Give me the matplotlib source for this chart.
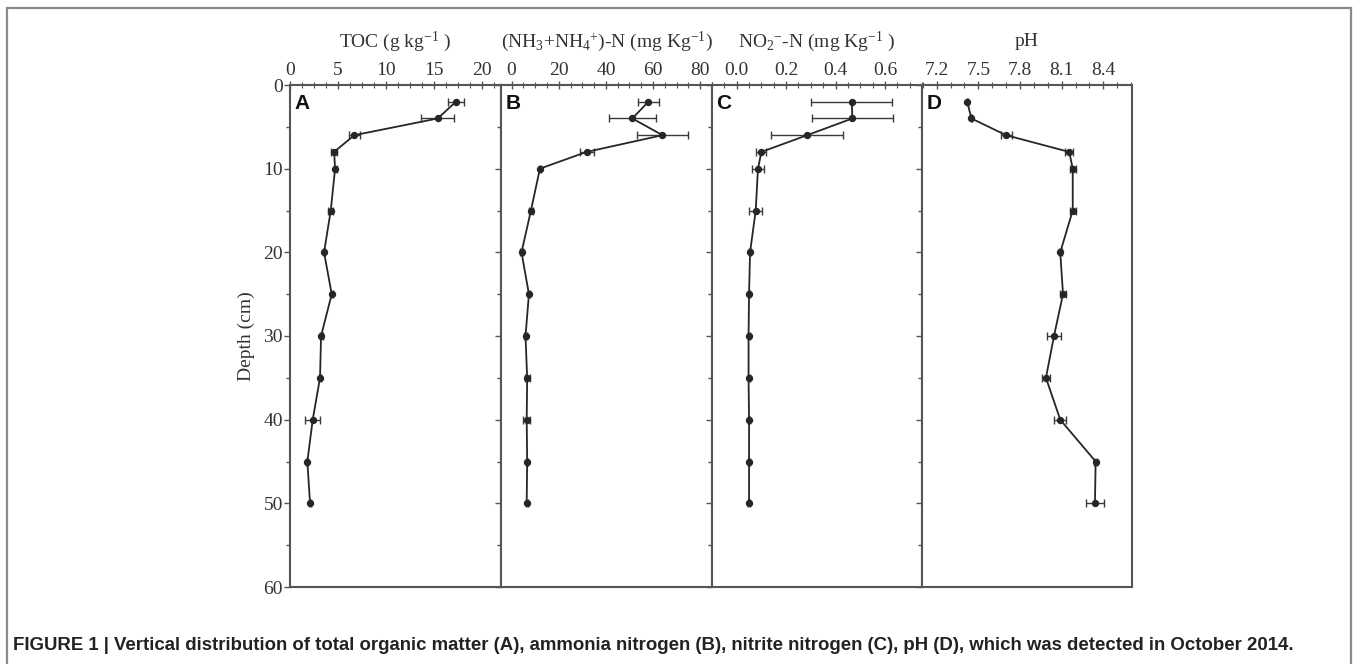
import matplotlib
matplotlib.use("Agg")
import matplotlib.pyplot as plt
from matplotlib.lines import Line2D
from matplotlib.ticker import MultipleLocator

plt.rcParams['font.family'] = ['Liberation Serif', 'DejaVu Serif']
plt.rcParams['mathtext.fontset'] = 'custom'
plt.rcParams['mathtext.rm'] = 'Liberation Serif'
plt.rcParams['mathtext.it'] = 'Liberation Serif:italic'
plt.rcParams['mathtext.bf'] = 'Liberation Serif:bold'

# ---------------- data ----------------
depth = [2, 4, 6, 8, 10, 15, 20, 25, 30, 35, 40, 45, 50]

toc = [17.3, 15.4, 6.7, 4.6, 4.7, 4.25, 3.55, 4.35, 3.24, 3.13, 2.37, 1.81, 2.09]
toc_err = [0.87, 1.7, 0.6, 0.3, 0.15, 0.25, 0.1, 0.1, 0.15, 0.15, 0.78, 0.1, 0.1]

nh = [58.0, 51.2, 64.0, 31.8, 12.0, 8.2, 4.2, 7.35, 5.9, 6.6, 6.4, 6.6, 6.4]
nh_err = [4.4, 9.9, 10.9, 3.0, 0.5, 1.0, 0.5, 0.5, 0.8, 1.0, 1.5, 0.5, 0.5]

no2 = [0.466, 0.468, 0.285, 0.10, 0.086, 0.077, 0.054, 0.05, 0.048, 0.048, 0.05, 0.05, 0.05]
no2_err = [0.164, 0.164, 0.146, 0.02, 0.023, 0.027, 0.005, 0.004, 0.004, 0.004, 0.004, 0.004, 0.004]

ph = [7.42, 7.45, 7.70, 8.155, 8.18, 8.18, 8.09, 8.11, 8.045, 7.987, 8.09, 8.345, 8.34]
ph_err = [0.005, 0.005, 0.04, 0.03, 0.02, 0.02, 0.01, 0.02, 0.054, 0.03, 0.045, 0.01, 0.062]

panel_letters = ['A', 'B', 'C', 'D']
titles = ['TOC (g kg$^{-1}$ )',
          '(NH$_3$+NH$_4$$^{+}$)-N (mg Kg$^{-1}$)',
          'NO$_2$$^{-}$-N (mg Kg$^{-1}$ )',
          'pH']
xlims = [(0, 22), (-4.5, 85), (-0.1, 0.75), (7.094, 8.607)]
major_steps = [5, 20, 0.2, 0.3]
minor_steps = [1.25, 5, 0.05, 0.1]
tick_fmts = ['{:.0f}', '{:.0f}', '{:.1f}', '{:.1f}']
values = [toc, nh, no2, ph]
errors = [toc_err, nh_err, no2_err, ph_err]

caption = ("FIGURE 1 | Vertical distribution of total organic matter (A), ammonia nitrogen (B), "
           "nitrite nitrogen (C), pH (D), which was detected in October 2014.")

# ---------------- figure ----------------
W, H = 1358, 664
fig = plt.figure(figsize=(W / 100, H / 100), dpi=100)
fig.patch.set_facecolor('white')

# outer frame (left, top, right)
fc = '#8a8a8a'
x0, x1, yt = 7 / W, 1351 / W, 1 - 8 / H
fig.add_artist(Line2D([x0, x1], [yt, yt], transform=fig.transFigure, color=fc, lw=1.6))
fig.add_artist(Line2D([x0, x0], [0, yt], transform=fig.transFigure, color=fc, lw=1.6))
fig.add_artist(Line2D([x1, x1], [0, yt], transform=fig.transFigure, color=fc, lw=1.6))

edges = [290, 501, 712, 922, 1132]
ax_top, ax_bot = 85, 587
spine_c = '#555555'
text_c = '#333333'
line_c = '#262626'

axes = []
for i in range(4):
    l = edges[i] / W
    w = (edges[i + 1] - edges[i]) / W
    b = 1 - ax_bot / H
    h = (ax_bot - ax_top) / H
    ax = fig.add_axes([l, b, w, h])
    axes.append(ax)
    ax.errorbar(values[i], depth, xerr=errors[i], color=line_c, lw=1.3,
                marker='o', ms=4.3, mfc=line_c, mec=line_c,
                ecolor='#3a3a3a', elinewidth=1.0, capsize=3, capthick=1.0)
    ax.set_ylim(60, 0)
    ax.set_xlim(*xlims[i])
    ax.xaxis.tick_top()
    ax.xaxis.set_major_locator(MultipleLocator(major_steps[i]))
    ax.xaxis.set_minor_locator(MultipleLocator(minor_steps[i]))
    ticks = [t for t in ax.get_xticks() if xlims[i][0] - 1e-9 <= t <= xlims[i][1] + 1e-9]
    ax.set_xticks(ticks)
    ax.set_xticklabels([tick_fmts[i].format(t) for t in ticks])
    ax.yaxis.set_major_locator(MultipleLocator(10))
    ax.yaxis.set_minor_locator(MultipleLocator(5))
    ax.tick_params(axis='x', which='major', direction='inout', length=6, width=1.0,
                   colors=spine_c, labelcolor=text_c, labelsize=14, pad=1)
    ax.tick_params(axis='x', which='minor', direction='inout', length=4, width=0.8,
                   colors=spine_c)
    ax.tick_params(axis='y', which='both', direction='out', length=4, width=1.0,
                   colors=spine_c, labelcolor=text_c, labelsize=14, pad=1)
    ax.tick_params(axis='y', which='minor', length=3)
    if i > 0:
        ax.tick_params(axis='y', which='both', labelleft=False)
    for s in ax.spines.values():
        s.set_color(spine_c)
        s.set_linewidth(1.5)
    ax.text(0.022, 0.982, panel_letters[i], transform=ax.transAxes, ha='left', va='top',
            fontsize=15, fontweight='bold', family=['Liberation Sans', 'DejaVu Sans'],
            color='#111111')
    cx = (edges[i] + edges[i + 1]) / 2 / W
    fig.text(cx, 1 - 42 / H, titles[i], ha='center', va='center', fontsize=14, color=text_c)

axes[0].set_ylabel('Depth (cm)', fontsize=14, color=text_c, labelpad=6)

fig.text(13 / W, 1 - 645 / H, caption, ha='left', va='center', fontsize=13.4,
         fontweight='bold', family=['Liberation Sans', 'DejaVu Sans'], color='#222222')

fig.savefig('out.png', dpi=100, facecolor='white')
